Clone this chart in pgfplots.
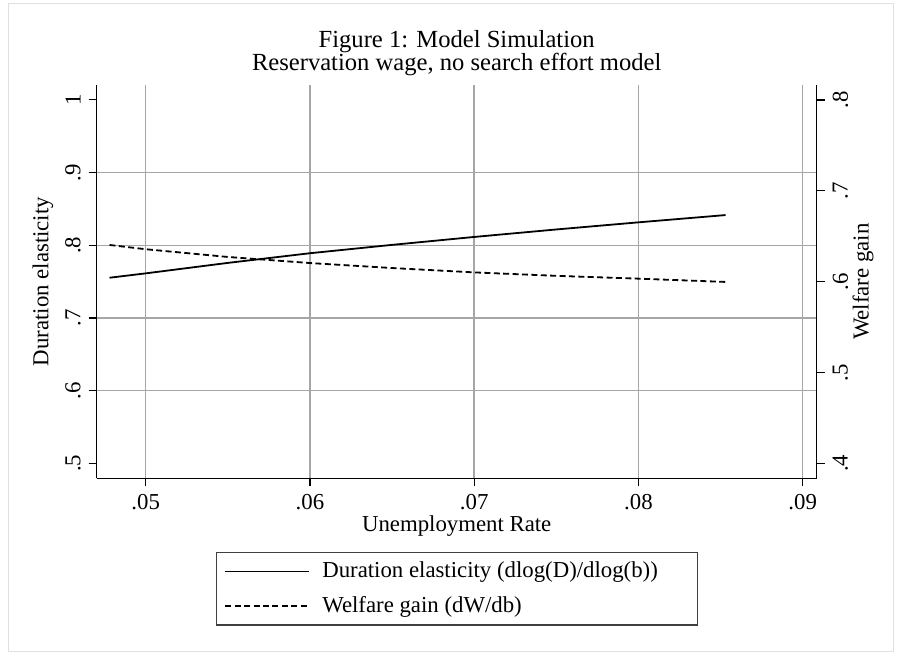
\documentclass[border=0pt]{standalone}
\usepackage{fontspec}
\setmainfont{Liberation Serif}
\usepackage{pgfplots}
\pgfplotsset{compat=1.18}

% simulated series
\pgfplotstableread{
u       elast
0.0478  0.7553
0.0500  0.7613
0.0550  0.7757
0.0600  0.7890
0.0650  0.8005
0.0700  0.8114
0.0750  0.8217
0.0800  0.8315
0.0853  0.8415
}\elast
\pgfplotstableread{
u       welfare
0.0478  0.6404
0.0500  0.6357
0.0550  0.6272
0.0600  0.6205
0.0650  0.6150
0.0700  0.6102
0.0750  0.6064
0.0800  0.6033
0.0853  0.5997
}\welfare

\begin{document}
\fontsize{11.4bp}{13bp}\selectfont
\begin{tikzpicture}
\useasboundingbox (0,0) rectangle (449bp,-327bp);
\draw[black!12, line width=0.5bp] (4bp,-1.5bp) rectangle (446.5bp,-325.5bp);

\node[anchor=base, font=\fontsize{12.3bp}{14bp}\selectfont] at (228.35bp,-23.85bp)
  {Figure 1: Model Simulation};
\node[anchor=base, font=\fontsize{12.3bp}{14bp}\selectfont] at (228.35bp,-35bp)
  {Reservation wage, no search effort model};

\pgfplotsset{
  every axis/.append style={
    at={(48.35bp,-239.15bp)}, anchor=south west,
    scale only axis, width=360bp, height=196.65bp,
    xmin=0.04702, xmax=0.09085,
    scaled x ticks=false, scaled y ticks=false,
    axis line style={-, line width=0.6bp, black},
    tick align=outside, major tick length=4bp,
    tick style={line width=0.6bp, black},
    grid style={black!35, line width=0.7bp},
    /pgf/number format/assume math mode=true,
  },
}

\begin{axis}[
    ymin=0.4794, ymax=1.0204,
    axis x line*=bottom, axis y line*=left,
    xtick={0.05,0.06,0.07,0.08,0.09},
    xticklabels={.05,.06,.07,.08,.09},
    xmajorgrids,
    ytick={0.5,0.6,0.7,0.8,0.9,1},
    yticklabels={.5,.6,.7,.8,.9,1},
    extra y ticks={0.6,0.7,0.8,0.9},
    extra y tick labels={},
    extra y tick style={grid=major, major tick length=0pt},
    yticklabel style={rotate=90, anchor=south},
    xlabel={Unemployment Rate},
    xlabel style={at={(axis description cs:0.5,0)}, anchor=center, yshift=-24bp},
    ylabel={Duration elasticity},
    ylabel style={at={(axis description cs:0,0.5)}, anchor=center, yshift=26.85bp},
    legend image code/.code={\draw[#1] (0bp,0bp) -- (42bp,0bp);},
    legend cell align=left,
    legend style={at={(axis description cs:0.5,0)}, anchor=north, yshift=-36.7bp,
      draw=black!75, line width=0.6bp, inner xsep=4.2bp, inner ysep=2.75bp,
      row sep=3.5bp},
  ]
\addplot[black, line width=0.9bp] table[x=u, y=elast] {\elast};
\addlegendentry{\hspace*{4bp}Duration elasticity (dlog(D)/dlog(b))\hspace*{13.5bp}}
\addlegendimage{black, line width=0.9bp, dash pattern=on 3bp off 1.7bp}
\addlegendentry{\hspace*{4bp}Welfare gain (dW/db)}
\end{axis}

\begin{axis}[
    ymin=0.3835, ymax=0.8165,
    axis x line=none, axis y line*=right,
    ytick={0.4,0.5,0.6,0.7,0.8},
    yticklabels={.4,.5,.6,.7,.8},
    yticklabel style={rotate=90, anchor=north},
    ylabel={Welfare gain},
    ylabel style={at={(axis description cs:1,0.5)}, anchor=center, yshift=-23.15bp},
  ]
\addplot[black, line width=0.9bp, dash pattern=on 3bp off 1.7bp] table[x=u, y=welfare] {\welfare};
\end{axis}
\end{tikzpicture}
\end{document}
